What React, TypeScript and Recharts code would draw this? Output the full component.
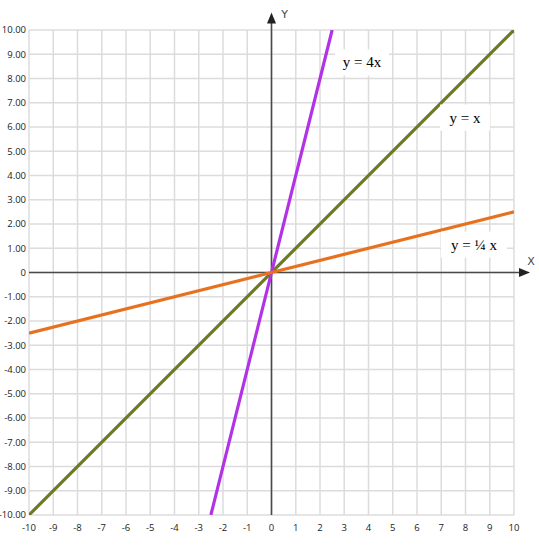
import React from 'react';
import { LineChart, Line, XAxis, YAxis, CartesianGrid, ReferenceLine, ReferenceDot } from 'recharts';

const xTicks = [-10, -9, -8, -7, -6, -5, -4, -3, -2, -1, 0, 1, 2, 3, 4, 5, 6, 7, 8, 9, 10];
const yTicks = [-10, -9, -8, -7, -6, -5, -4, -3, -2, -1, 0, 1, 2, 3, 4, 5, 6, 7, 8, 9, 10];

const line4x = [{ x: -2.5, y: -10 }, { x: 2.5, y: 10 }];
const lineX = [{ x: -10, y: -10 }, { x: 10, y: 10 }];
const lineQuarter = [{ x: -10, y: -2.5 }, { x: 10, y: 2.5 }];

const labels = [
  { x: 3.73, y: 8.66, text: 'y = 4x', w: 54 },
  { x: 7.98, y: 6.39, text: 'y = x', w: 50 },
  { x: 8.35, y: 1.15, text: 'y = \u00BC x', w: 66 },
];

const AXIS_COLOR = '#4a4a4a';

const yFmt = (v: number) => (v === 0 ? '0' : v.toFixed(2));

const ArrowLine = (name: string) => (props: any) => {
  const { x1, y1, x2, y2 } = props;
  const dx = x2 - x1;
  const dy = y2 - y1;
  const len = Math.sqrt(dx * dx + dy * dy) || 1;
  const ux = dx / len;
  const uy = dy / len;
  const px = -uy;
  const py = ux;
  const L = 11;
  const H = 4.5;
  const bx = x2 - ux * L;
  const by = y2 - uy * L;
  const pts = `${x2},${y2} ${bx + px * H},${by + py * H} ${bx - px * H},${by - py * H}`;
  const isX = name === 'X';
  return (
    <g>
      <line x1={x1} y1={y1} x2={bx + ux * 2} y2={by + uy * 2} stroke={AXIS_COLOR} strokeWidth={1.6} />
      <polygon points={pts} fill="#222" />
      <text
        x={isX ? x2 + 1 : x2 + 13}
        y={isX ? y2 - 8 : y2 + 5}
        textAnchor="middle"
        fontFamily="'DejaVu Sans', sans-serif"
        fontSize={11}
        fill="#444"
      >
        {name}
      </text>
    </g>
  );
};

const LabelBox = (text: string, w: number) => (props: any) => {
  const { cx, cy } = props;
  return (
    <g>
      <rect x={cx - w / 2} y={cy - 13} width={w} height={26} fill="#ffffff" />
      <text
        x={cx}
        y={cy + 5}
        textAnchor="middle"
        fontFamily="'Liberation Serif', 'Times New Roman', serif"
        fontSize={15}
        fill="#000"
      >
        {text}
      </text>
    </g>
  );
};

export default function App() {
  return (
    <div style={{ position: 'absolute', left: 0, top: 0, width: 539, height: 545, background: '#fff' }}>
      <LineChart width={539} height={545} margin={{ top: 30, right: 25, left: 0, bottom: 0 }}>
        <CartesianGrid stroke="#dcdcdc" strokeWidth={1.5} />
        <XAxis
          type="number"
          dataKey="x"
          domain={[-10, 10]}
          ticks={xTicks}
          interval={0}
          height={30}
          axisLine={false}
          tickLine={false}
          tickSize={0}
          tickMargin={9}
          tick={{ fontSize: 9.5, fill: '#222', fontFamily: "'Open Sans', sans-serif" }}
          allowDataOverflow
        />
        <YAxis
          type="number"
          dataKey="y"
          domain={[-10, 10]}
          ticks={yTicks}
          interval={0}
          width={29}
          axisLine={false}
          tickLine={false}
          tickSize={0}
          tickMargin={3}
          tickFormatter={yFmt}
          tick={{ fontSize: 9.5, fill: '#222', fontFamily: "'Open Sans', sans-serif" }}
          allowDataOverflow
        />
        <ReferenceLine
          segment={[{ x: -10, y: 0 }, { x: 10.66, y: 0 }]}
          ifOverflow="visible"
          shape={ArrowLine('X')}
        />
        <ReferenceLine
          segment={[{ x: 0, y: -10 }, { x: 0, y: 10.72 }]}
          ifOverflow="visible"
          shape={ArrowLine('Y')}
        />
        <Line data={lineX} dataKey="y" type="linear" stroke="#6e7a22" strokeWidth={3.2} dot={false} isAnimationActive={false} />
        <Line data={line4x} dataKey="y" type="linear" stroke="#b232e6" strokeWidth={3.2} dot={false} isAnimationActive={false} />
        <Line data={lineQuarter} dataKey="y" type="linear" stroke="#e8711f" strokeWidth={3.2} dot={false} isAnimationActive={false} />
        {labels.map((l) => (
          <ReferenceDot key={l.text} x={l.x} y={l.y} r={0} ifOverflow="visible" shape={LabelBox(l.text, l.w)} />
        ))}
      </LineChart>
    </div>
  );
}
